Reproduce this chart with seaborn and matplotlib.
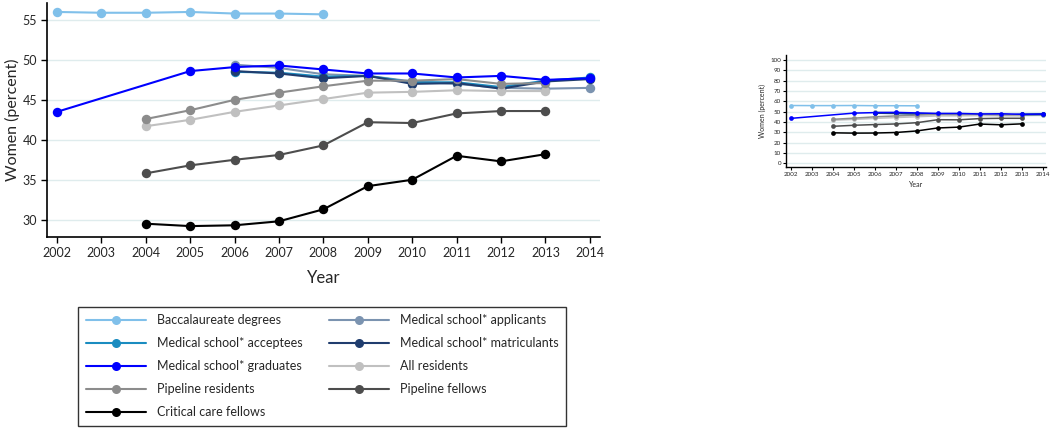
import numpy as np
import pandas as pd
import matplotlib
matplotlib.use("Agg")
import matplotlib.pyplot as plt
import seaborn as sns
from matplotlib.lines import Line2D

# ── Data ─────────────────────────────────────────────────────
years_bacc = [2002, 2003, 2004, 2005, 2006, 2007, 2008]
bacc = [56.0, 55.9, 55.9, 56.0, 55.8, 55.8, 55.7]

years_grad = [2002, 2005, 2006, 2007, 2008, 2009, 2010, 2011, 2012, 2013, 2014]
graduates = [43.5, 48.6, 49.1, 49.3, 48.8, 48.3, 48.3, 47.8, 48.0, 47.5, 47.7]

years_med = [2006, 2007, 2008, 2009, 2010, 2011, 2012, 2013, 2014]
applicants = [49.4, 49.0, 48.2, 48.0, 47.3, 47.0, 46.5, 46.4, 46.5]
acceptees = [48.5, 48.4, 47.9, 48.0, 47.2, 47.2, 46.6, 47.4, 47.8]
matriculants = [48.6, 48.3, 47.7, 48.0, 47.0, 47.1, 46.4, 47.3, 47.6]

years_res = [2004, 2005, 2006, 2007, 2008, 2009, 2010, 2011, 2012, 2013]
all_residents = [41.7, 42.5, 43.5, 44.3, 45.1, 45.9, 46.0, 46.2, 46.1, 46.1]
pipeline_residents = [42.6, 43.7, 45.0, 45.9, 46.7, 47.4, 47.4, 47.6, 47.0, 47.1]
pipeline_fellows = [35.8, 36.8, 37.5, 38.1, 39.3, 42.2, 42.1, 43.3, 43.6, 43.6]
critical_care = [29.5, 29.2, 29.3, 29.8, 31.3, 34.2, 35.0, 38.0, 37.3, 38.2]

series = {
    "Baccalaureate degrees": (years_bacc, bacc),
    "Medical school* applicants": (years_med, applicants),
    "Medical school* acceptees": (years_med, acceptees),
    "Medical school* matriculants": (years_med, matriculants),
    "All residents": (years_res, all_residents),
    "Pipeline residents": (years_res, pipeline_residents),
    "Pipeline fellows": (years_res, pipeline_fellows),
    "Critical care fellows": (years_res, critical_care),
    "Medical school* graduates": (years_grad, graduates),
}
colors = {
    "Baccalaureate degrees": "#80c0ea",
    "Medical school* applicants": "#7b93b0",
    "Medical school* acceptees": "#1a8cc0",
    "Medical school* matriculants": "#203d6e",
    "All residents": "#c0c0c0",
    "Pipeline residents": "#8c8c8c",
    "Pipeline fellows": "#4d4d4d",
    "Critical care fellows": "#000000",
    "Medical school* graduates": "#0000ff",
}
legend_order = [
    "Baccalaureate degrees", "Medical school* acceptees", "Medical school* graduates",
    "Pipeline residents", "Critical care fellows",
    "Medical school* applicants", "Medical school* matriculants", "All residents",
    "Pipeline fellows",
]

df = pd.concat(
    [pd.DataFrame({"Year": x, "Women": y, "Series": name}) for name, (x, y) in series.items()],
    ignore_index=True,
)

sns.set_theme(style="white")
plt.rcParams["font.family"] = ["Lato", "DejaVu Sans"]
GRID = "#dfeced"


def draw(ax, lw, ms):
    sns.lineplot(
        data=df, x="Year", y="Women", hue="Series", hue_order=list(series.keys()),
        palette=colors, marker="o", markersize=ms, markeredgewidth=0,
        linewidth=lw, legend=False, ax=ax, sort=True, estimator=None,
    )
    ax.yaxis.grid(True, color=GRID, linewidth=1)
    ax.set_axisbelow(True)
    sns.despine(ax=ax)
    for s in ("left", "bottom"):
        ax.spines[s].set_color("black")
    ax.tick_params(axis="both", which="both", direction="out", color="black",
                   left=True, bottom=True)


fig = plt.figure(figsize=(10.5, 4.28), dpi=100)

# ── Main chart ───────────────────────────────────────────────
ax = fig.add_axes([0.0445, 0.4456, 0.527, 0.547])
draw(ax, 1.5, 6.8)
ax.set_xlim(2001.77, 2014.23)
ax.set_ylim(27.8, 57.1)
ax.set_xticks(range(2002, 2015))
ax.set_yticks(range(30, 56, 5))
ax.tick_params(labelsize=9, length=4, width=1, pad=3)
for s in ("left", "bottom"):
    ax.spines[s].set_linewidth(1.2)
ax.set_xlabel("Year", fontsize=12, labelpad=8)
ax.set_ylabel("Women (percent)", fontsize=11.5, labelpad=2)

# ── Inset full-scale chart ───────────────────────────────────
ax2 = fig.add_axes([0.7486, 0.609, 0.2476, 0.2625])
draw(ax2, 1.1, 3.4)
ax2.set_xlim(2001.78, 2014.16)
ax2.set_ylim(-4, 105)
ax2.set_xticks(range(2002, 2015))
ax2.set_yticks(range(0, 101, 10))
ax2.tick_params(labelsize=4.5, length=2, width=0.8, pad=1.5)
for s in ("left", "bottom"):
    ax2.spines[s].set_linewidth(1.0)
ax2.set_xlabel("Year", fontsize=5, labelpad=3)
ax2.set_ylabel("Women (percent)", fontsize=5, labelpad=3)

# ── Legend ───────────────────────────────────────────────────
handles = [
    Line2D([], [], color=colors[n], marker="o", markersize=6.5, markeredgewidth=0, linewidth=1.5)
    for n in legend_order
]
leg = fig.legend(
    handles, legend_order, ncol=2, loc="upper left",
    bbox_to_anchor=(78 / 1050, 1 - 307 / 428), fontsize=9,
    frameon=True, fancybox=False, edgecolor="black", handlelength=4.8,
    handletextpad=0.9, columnspacing=2.1, labelspacing=0.87,
    borderpad=0.6, borderaxespad=0,
)
leg.get_frame().set_linewidth(1.0)

fig.savefig("out.png", dpi=100)
